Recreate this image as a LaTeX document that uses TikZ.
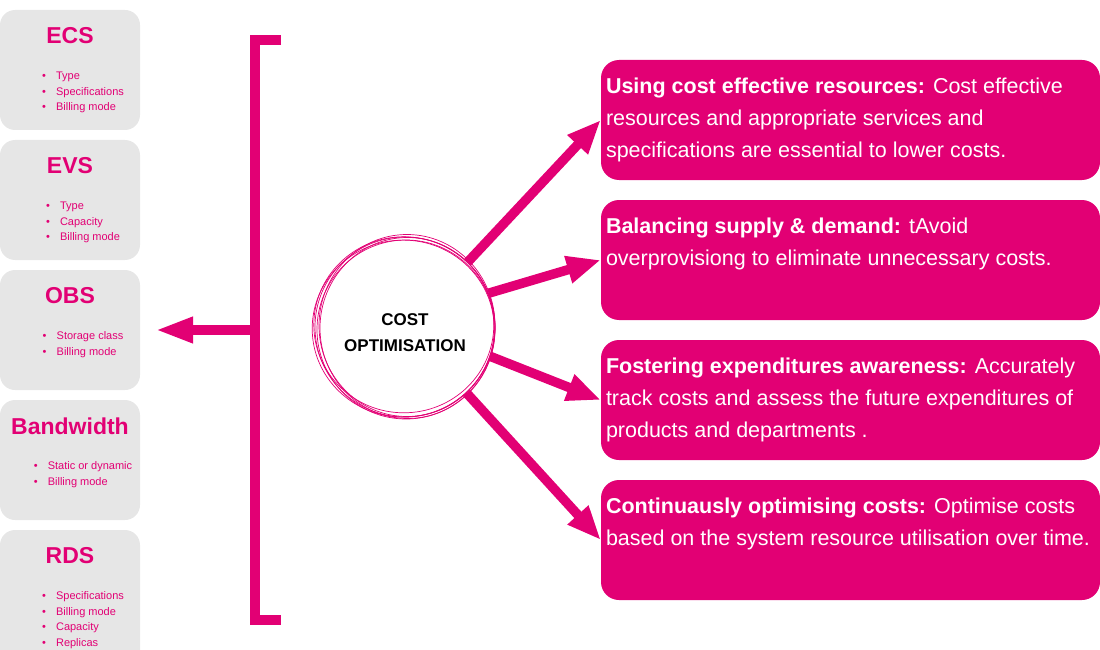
\documentclass[tikz,border=0pt]{standalone}
\usepackage{fontspec}
\setmainfont{Liberation Sans}
\usetikzlibrary{arrows.meta}
\usetikzlibrary{positioning}
\usetikzlibrary{calc}

\definecolor{tmag}{HTML}{E20074}
\definecolor{tgrey}{HTML}{E6E6E6}

\newcommand{\itm}[1]{\makebox[14pt][l]{\textbullet}#1}

\begin{document}
\begin{tikzpicture}[x=1pt,y=-1pt,
    svcbox/.style={fill=tgrey, rounded corners=15pt, minimum width=140pt, minimum height=120pt, inner sep=0pt},
    svchead/.style={tmag, font=\fontsize{23}{26}\selectfont\bfseries},
    svclist/.style={tmag, align=left, inner sep=0pt, anchor=north, font=\fontsize{11}{15.5}\selectfont},
    goalbox/.style={fill=tmag, rounded corners=18pt, minimum width=499pt, minimum height=120pt, inner sep=0pt},
    goaltext/.style={white, align=left, inner sep=0pt, anchor=north west, font=\fontsize{21.5}{32}\selectfont},
    sketch/.style={tmag, line width=0.7pt},
    fat/.style={tmag, line width=9.5pt, -{Triangle[length=34pt,width=26pt]}},
  ]
\useasboundingbox (0,0) rectangle (1100,650);

% cloud services
\node[svcbox] (ecs) at (70,70) {};
\node[svcbox] (evs) at (70,200) {};
\node[svcbox] (obs) at (70,330) {};
\node[svcbox] (bw) at (70,460) {};
\node[svcbox, minimum height=140pt] (rds) at (70,600) {};

\node[svchead] at ([yshift=-26pt]ecs.north) {ECS};
\node[svchead] at ([yshift=-26pt]evs.north) {EVS};
\node[svchead] at ([yshift=-26pt]obs.north) {OBS};
\node[svchead] at ([yshift=-26pt]bw.north) {Bandwidth};
\node[svchead] at ([yshift=-26pt]rds.north) {RDS};

\node[svclist] at ([xshift=13pt,yshift=-62pt]ecs.north) {\itm{Type}\\\itm{Specifications}\\\itm{Billing mode}};
\node[svclist] at ([xshift=13pt,yshift=-62pt]evs.north) {\itm{Type}\\\itm{Capacity}\\\itm{Billing mode}};
\node[svclist] at ([xshift=13pt,yshift=-62pt]obs.north) {\itm{Storage class}\\\itm{Billing mode}};
\node[svclist] at ([xshift=13pt,yshift=-62pt]bw.north) {\itm{Static or dynamic}\\\itm{Billing mode}};
\node[svclist] at ([xshift=13pt,yshift=-62pt]rds.north) {\itm{Specifications}\\\itm{Billing mode}\\\itm{Capacity}\\\itm{Replicas}};

% bracket
\coordinate (bt) at (281,40);
\coordinate (bb) at (281,620);
\coordinate (bm) at (255,330);
\draw[tmag, line width=10pt] (bt) -- (255,40) -- (255,620) -- (bb);
\draw[tmag, line width=10pt, -{Triangle[length=38pt,width=24pt]}] (bm) -- ([xshift=15pt]obs.east);

% centre
\node[circle, minimum size=180pt, inner sep=0pt] (core) at (405,327) {};
\node[align=center, font=\fontsize{17}{26}\selectfont\bfseries] (coretext) at ([yshift=-6pt]core.center) {COST\\OPTIMISATION};
\foreach \dx/\dy/\rx/\ry in {0/0/90/90, 2/-1.5/88/91, -1.8/1.6/91/88.5, 1/2.5/89/89.5, -1.2/-2.2/90/88, 2.5/1/87.5/90.5}
  \draw[sketch] ([shift={(\dx,\dy)}]core.center) ellipse [x radius=\rx pt, y radius=\ry pt];

% goals
\node[goalbox] (g1) at (850.5,120) {};
\node[goalbox] (g2) at (850.5,260) {};
\node[goalbox] (g3) at (850.5,400) {};
\node[goalbox] (g4) at (850.5,540) {};

\node[goaltext] at ([xshift=5pt,yshift=-18pt]g1.north west) {\textbf{Using cost effective resources:} Cost effective\\resources and appropriate services and\\specifications are essential to lower costs.};
\node[goaltext] at ([xshift=5pt,yshift=-18pt]g2.north west) {\textbf{Balancing supply \& demand:} tAvoid\\overprovisiong to eliminate unnecessary costs.};
\node[goaltext] at ([xshift=5pt,yshift=-18pt]g3.north west) {\textbf{Fostering expenditures awareness:} Accurately\\track costs and assess the future expenditures of\\products and departments .};
\node[goaltext] at ([xshift=5pt,yshift=-18pt]g4.north west) {\textbf{Continuausly optimising costs:} Optimise costs\\based on the system resource utilisation over time.};

\draw[fat] (core.46) -- (g1.west);
\draw[fat] (core.22) -- (g2.west);
\draw[fat] (core.-19) -- (g3.west);
\draw[fat] (core.-47) -- (g4.west);
\end{tikzpicture}
\end{document}
